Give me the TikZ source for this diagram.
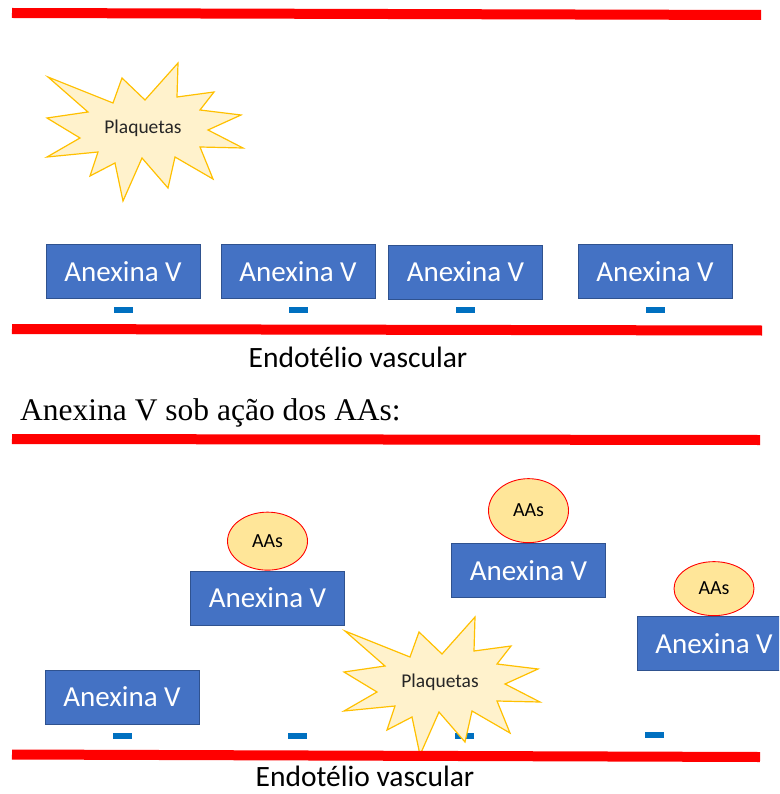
\documentclass[tikz,border=0pt]{standalone}
\usepackage{fontspec}
\setmainfont{Carlito}
\newfontfamily\headfont{Liberation Serif}
\usetikzlibrary{positioning,shapes.geometric}

\definecolor{anxblue}{HTML}{4472C4}
\definecolor{anxedge}{HTML}{2F528F}
\definecolor{minusblue}{HTML}{0070C0}
\definecolor{burstfill}{HTML}{FFF2CC}
\definecolor{burstedge}{HTML}{FFC000}
\definecolor{aafill}{HTML}{FFE699}

% explosion shape with its label
\newcommand{\plaquetas}[2]{%
  \draw[burst,shift={#2}] (-95,-51) -- (-30,-25) -- (-21,-50) -- (2,-28)
    -- (35,-65) -- (34,-31) -- (71,-36) -- (57,-18) -- (98,-13) -- (65,2)
    -- (100,20) -- (57,19) -- (70,51) -- (32,29) -- (25,60) -- (-1,30)
    -- (-20,73) -- (-28,35) -- (-53,48) -- (-45,24) -- (-96,29) -- (-63,10)
    -- (-96,-10) -- (-55,-16) -- cycle;
  \node[plaqtext] (#1) at #2 {Plaquetas};}

\begin{document}
\begin{tikzpicture}[x=1pt,y=-1pt,
        anexina/.style={rectangle,fill=anxblue,draw=anxedge,line width=0.8pt,
          minimum width=154pt,minimum height=54pt,inner sep=0pt,text=white,
          font=\fontsize{29}{34}\selectfont},
        aas/.style={ellipse,fill=aafill,draw=red,line width=0.9pt,
          minimum width=80pt,inner sep=0pt,font=\fontsize{20}{24}\selectfont},
        minus/.style={rectangle,fill=minusblue,minimum width=19pt,
          minimum height=6pt,inner sep=0pt},
        burst/.style={fill=burstfill,draw=burstedge,line width=1.2pt,
          line join=miter},
        plaqtext/.style={text=black!85,font=\fontsize{19.5}{23}\selectfont},
        wall/.style={red,line width=10pt},
        label/.style={inner sep=0pt,font=\fontsize{29.5}{34}\selectfont}]
      \useasboundingbox (0,0) rectangle (779,794);
      \clip (0,0) rectangle (779,794);
      % first panel
      \draw[wall] (12,13) -- (761,15);
      \plaquetas{plaq1}{(143,128)}
      \node[anexina] (anx1) at (123,271.5) {Anexina V};
      \node[anexina] (anx2) at (298,271.5) {Anexina V};
      \node[anexina] (anx3) at (465.5,272) {Anexina V};
      \node[anexina] (anx4) at (655,271.5) {Anexina V};
      \node[minus] (m1) [below=8pt of anx1] {};
      \node[minus] (m2) [below=8pt of anx2] {};
      \node[minus] (m3) [below=7pt of anx3] {};
      \node[minus] (m4) [below=8pt of anx4] {};
      \draw[wall] (12,329) -- (762,330.5);
      \node[label] (endo1) at (358,357) {Endotélio vascular};
      % heading
      \node[anchor=base west,inner sep=0pt,font=\headfont\fontsize{31.5}{36}\selectfont]
        (title) at (20,420) {Anexina V sob ação dos AAs:};
      % second panel
      \draw[wall] (12,439) -- (760,440);
      \node[anexina] (anxa) at (122,697) {Anexina V};
      \node[anexina] (anxb) at (267.5,598) {Anexina V};
      \node[anexina] (anxc) at (528.5,570.5) {Anexina V};
      \node[anexina] (anxd) at (714,643.5) {Anexina V};
      \node[aas,minimum height=58pt] (aas1) [above=0pt of anxb] {AAs};
      \node[aas,minimum height=64pt] (aas2) [above=0pt of anxc] {AAs};
      \node[aas,minimum height=54pt] (aas3) [above=0pt of anxd] {AAs};
      \node[minus] (n1) at (122.5,735.5) {};
      \node[minus] (n2) at (297.5,735.5) {};
      \node[minus] (n3) at (464,735.5) {};
      \node[minus] (n4) at (654,735) {};
      \plaquetas{plaq2}{(440,682)}
      \draw[wall] (12,754.5) -- (760,757);
      \node[label] (endo2) at (365,776) {Endotélio vascular};
    \end{tikzpicture}
\end{document}
